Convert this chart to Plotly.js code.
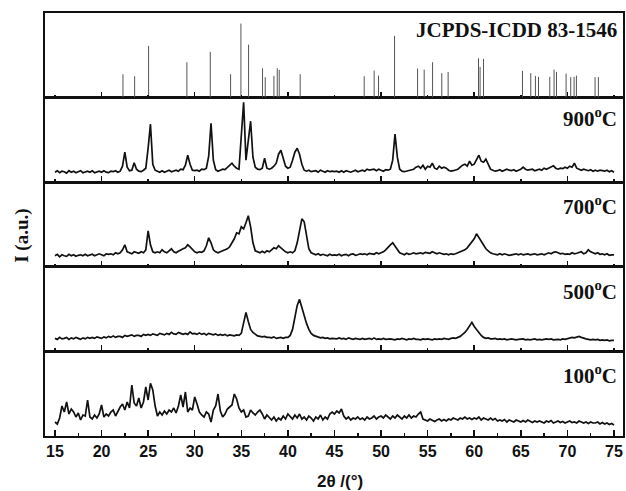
<!DOCTYPE html>
<html>
<head>
<meta charset="utf-8">
<script src="https://cdn.plot.ly/plotly-3.0.1.min.js"></script>
<style>html,body{margin:0;padding:0;background:#fff;}#chart{width:626px;height:491px;}</style>
</head>
<body>
<div id="chart"></div>
<script>
// 2θ grid for the measured patterns: start and step (degrees)
const scanStart = 15;
const scanStep = 0.25;

// JCPDS-ICDD 83-1546 reference lines: positions (2θ) and relative intensities
const jcpdsPos = [22.30, 23.55, 25.05, 29.16, 31.67, 33.85, 34.96, 35.78, 37.28, 37.57, 38.50, 38.86, 39.07, 41.32,
  48.19, 49.26, 49.73, 51.45, 53.92, 54.63, 55.53, 56.52, 57.20, 60.46, 60.63, 61.00, 65.18, 66.07, 66.57, 66.90,
  68.11, 68.57, 68.83, 69.86, 70.36, 70.72, 70.97, 72.97, 73.33];
const jcpdsInt = [31.6, 28.9, 69.9, 47.8, 61.8, 31.6, 100, 71.6, 39.7, 27.6, 29.3, 39.7, 37.4, 31.6,
  28.9, 36.5, 29.7, 83.4, 39.2, 37.8, 47.8, 33.0, 34.7, 53.2, 41.5, 52.3, 36.1, 33.0, 29.3, 28.0,
  28.0, 37.8, 34.7, 32.4, 27.6, 28.0, 29.7, 27.6, 27.6];

// measured intensities (a.u.), one value per 0.25° from 15° to 75°
const i900 = [
  10, 11.5, 9.5, 11,   10.5, 9, 11.5, 10,   11, 9.5, 10.5, 11.5,   9.5, 10, 11, 10,
  11.5, 9.5, 10.5, 11,   10, 11.5, 10, 9.5,   11, 10.5, 11.5, 10,   11, 16, 30, 15,
  11.5, 12, 19.5, 13,   11, 10.5, 12, 14,   34, 58, 18, 12,   11, 10, 11.5, 10,
  11, 12, 10.5, 11,   12, 11, 13, 12.5,   17, 27, 18, 12,   11.5, 12, 11, 13,
  12.5, 14, 26, 59,   22, 12.5, 11, 12,   13, 12.5, 15, 17,   19, 16, 14, 13,
  48, 80, 22, 40,   61, 25, 15, 13,   12.5, 14, 24, 14,   13, 14, 16, 19,
  28, 32, 24, 16,   14, 15, 22, 30,   34, 28, 18, 12,   11, 12, 10.5, 11,
  11.5, 10, 12, 11,   10, 11.5, 10.5, 11,   10.5, 11, 10, 11.5,   10, 11.5, 11, 10,
  11, 12, 10.5, 11.5,   12, 11, 13, 12,   12.5, 13, 11.5, 13,   12, 11, 12.5, 12,
  13, 22, 48, 25,   13, 11, 10.5, 11,   11.5, 12, 13, 15,   16, 14, 17, 13,
  16, 15, 19, 14,   13, 16, 14, 15,   14, 12, 11, 11.5,   12, 13, 15, 17,
  18, 16, 21, 17,   18, 22, 27, 21,   20, 23, 17, 13,   12, 11, 11.5, 12.5,
  11, 12, 13, 12,   11.5, 12.5, 11, 12,   13, 15, 13, 12,   12.5, 13, 11.5, 12,
  13, 12, 14, 13,   14, 15.5, 16.5, 14,   13, 14, 13.5, 15,   14, 16, 15, 19,
  14, 13, 12, 13,   12, 11.5, 12.5, 11,   12, 11, 12, 11.5,   11, 12, 10.5, 11.5,
  10];
const i700 = [
  11, 12.5, 10, 12,   11, 10.5, 12.5, 11,   12, 10.5, 11.5, 12,   11, 12.5, 11, 12,
  12.5, 11, 12, 13,   12, 11, 13, 12.5,   13, 12, 14, 13,   14, 17, 22, 15,
  14, 13, 15, 14,   13.5, 15, 14, 17,   36, 22, 15, 14,   15, 14, 17, 15,
  14, 16, 18, 15,   14, 15.5, 17, 18,   19, 22, 20, 17,   15, 14, 15, 14.5,
  16, 21, 29, 24,   17, 15, 14, 15,   16, 17, 18, 20,   24, 28, 34, 33,
  40, 38, 44, 51,   40, 24, 16, 15,   14, 15.5, 14, 16,   15, 17, 19, 18,
  21, 19, 17, 15,   14, 15, 14, 16,   24, 38, 48, 45,   32, 18, 14, 13,
  12, 13, 11.5, 12.5,   12, 11, 12.5, 11.5,   12, 11.5, 12.5, 11,   12, 12.5, 11, 12.5,
  13, 11.5, 12, 13,   12.5, 13, 12, 13.5,   13, 12.5, 14, 13,   14, 15, 17, 20,
  22, 24, 21, 17,   14, 13, 12, 13.5,   12.5, 13, 14, 13,   13.5, 14, 13, 14.5,
  14, 13.5, 15, 14,   13, 14, 13.5, 12.5,   13, 12, 13, 12.5,   13, 14, 14.5, 16,
  17, 19, 22, 25,   28, 33, 29, 25,   21, 18, 16, 14,   13, 12.5, 12, 13,
  12, 13, 12.5, 11.5,   12, 12.5, 13, 12,   13, 12, 12.5, 13,   12, 12.5, 13, 12,
  12.5, 13, 12, 13,   14, 13, 14.5, 15,   14, 13, 13.5, 12.5,   13, 12.5, 14, 13,
  13.5, 14, 15, 13,   14, 17, 15, 14,   13, 14, 12.5, 13,   12, 13, 11.5, 12,
  12];
const i500 = [
  13, 12, 14, 12.5,   13, 14, 12, 13.5,   12.5, 14, 13, 12,   13.5, 12.5, 14, 13,
  14, 13, 14.5, 13.5,   13, 14.5, 13.5, 15,   14, 15.5, 14, 15,   15, 14, 16, 15,
  15.5, 16.5, 15, 16,   16, 15, 17, 16,   17, 16, 17.5, 16.5,   16, 18, 17, 16.5,
  18, 17, 19, 17.5,   17, 19, 18, 17,   18, 17, 19.5, 17.5,   18, 17, 18.5, 17,
  18, 16.5, 18, 17,   16.5, 17.5, 16, 17,   16, 17, 15.5, 16.5,   16, 15.5, 16.5, 16,
  18, 28, 39, 30,   22, 19, 17, 15.5,   15, 14.5, 15, 14,   14, 13.5, 14.5, 13,
  13.5, 14, 13, 14,   14, 16, 22, 36,   46, 52, 44, 34,   28, 22, 18, 16,
  15, 14, 13.5, 14,   13, 13.5, 12.5, 13,   13, 12.5, 13.5, 12.5,   13, 12, 13.5, 12.5,
  12, 13, 12.5, 12,   13, 12, 12.5, 13,   12, 13.5, 12, 12.5,   12, 13, 12, 12.5,
  12.5, 12, 11.5, 12.5,   12, 13, 12, 11.5,   12.5, 12, 13, 12,   12, 11.5, 12.5, 12,
  12.5, 12, 11.5, 12.5,   12, 12.5, 12, 13,   12.5, 12, 13, 13.5,   13, 14, 15, 17,
  19, 22, 26, 29,   25, 22, 18, 16,   14, 13, 13.5, 12.5,   12.5, 13, 12, 12.5,
  12, 12.5, 11.5, 12,   12.5, 12, 11.5, 12,   12, 12.5, 11.5, 12,   11.5, 12, 12.5, 11.5,
  12, 11.5, 12, 12.5,   12, 12.5, 11.5, 12,   12, 11.5, 12.5, 12,   12.5, 13, 14, 13.5,
  14, 15, 14, 13,   12.5, 12, 11.5, 12,   11.5, 12, 11, 11.5,   11, 11.5, 10.5, 11,
  11];
const i100 = [
  14, 12, 18, 30,   24, 34, 22, 27,   24, 19, 23, 16,   21, 20, 36, 19,
  17, 21, 18, 22,   31, 19, 22, 20,   24, 26, 20, 25,   29, 32, 26, 34,
  28, 51, 33, 30,   38, 28, 34, 49,   36, 52.7, 46, 30,   20, 24, 21, 25,
  22, 26, 24, 28,   23, 30, 41, 29,   44, 24, 28, 26,   39, 32, 24, 21,
  19, 24, 22, 14,   26, 30, 42, 25,   19, 22, 27, 29,   31, 42, 37, 28,
  24, 26, 19, 20,   26, 23, 21, 24,   26, 22, 17, 21,   18, 16, 19, 15,
  18, 16, 20, 17,   22, 19, 17, 21,   18, 22, 17, 19,   16, 20, 18, 15,
  19, 17, 21, 16,   19, 17, 22, 24,   22, 25, 23, 27,   20, 17, 19, 16,
  18, 17, 19, 16.5,   18, 16, 19, 17,   18, 20, 17, 19,   20, 18, 21, 19,
  17, 20, 18, 21,   19, 17, 20, 18,   21, 18, 20, 19,   22, 24, 17, 16,
  15, 17, 16, 14.5,   16, 17, 15, 16.5,   15, 17, 16, 18,   17, 16, 18, 17,
  19, 17, 18, 16.5,   18, 17, 19, 16,   18, 17, 16, 18,   16, 17.5, 15, 16,
  15, 16.5, 14, 16,   15, 14, 16, 15,   14, 15.5, 14, 16,   15, 13.5, 15, 14,
  15, 14, 13, 15,   14, 15.5, 13, 14,   15, 13.5, 14.5, 13,   14, 15, 13.5, 14,
  13, 15, 14, 13,   14, 12.5, 14, 13,   13, 14, 12, 13.5,   12, 13, 11.5, 12.5,
  11];

const panelLabels = ['JCPDS-ICDD 83-1546', '900<sup>o</sup>C', '700<sup>o</sup>C', '500<sup>o</sup>C', '100<sup>o</sup>C'];
const xTickLabels = ['15', '20', '25', '30', '35', '40', '45', '50', '55', '60', '65', '70', '75'];

// stick pattern built from the reference arrays
const stickX = [], stickY = [];
jcpdsPos.forEach((p, k) => { stickX.push(p, p, null); stickY.push(0, jcpdsInt[k], null); });

const lineStyle = {color: '#111', width: 1.7};
const traces = [
  {type: 'scatter', mode: 'lines', x: stickX, y: stickY, xaxis: 'x5', yaxis: 'y5',
   line: {color: '#555', width: 1}, hoverinfo: 'skip'},
  {type: 'scatter', mode: 'lines', x0: scanStart, dx: scanStep, y: i900, xaxis: 'x4', yaxis: 'y4', line: lineStyle},
  {type: 'scatter', mode: 'lines', x0: scanStart, dx: scanStep, y: i700, xaxis: 'x3', yaxis: 'y3', line: lineStyle},
  {type: 'scatter', mode: 'lines', x0: scanStart, dx: scanStep, y: i500, xaxis: 'x2', yaxis: 'y2', line: lineStyle},
  {type: 'scatter', mode: 'lines', x0: scanStart, dx: scanStep, y: i100, xaxis: 'x', yaxis: 'y', line: lineStyle}
];

const axLine = {showline: true, linecolor: '#111', linewidth: 1.6, mirror: true, showgrid: false, zeroline: false};
const xRange = [13.93, 75.97];
function upperX(anchor) {
  return Object.assign({}, axLine, {
    anchor: anchor, matches: 'x', range: xRange, showticklabels: false,
    ticks: 'inside', tickmode: 'linear', tick0: 0, dtick: 10, ticklen: 6, tickwidth: 1.5, tickcolor: '#111',
    minor: {ticks: 'inside', tickmode: 'linear', tick0: 0, dtick: 5, ticklen: 3, tickwidth: 1.5, tickcolor: '#111'}
  });
}
function yAx(domain, range) {
  return Object.assign({}, axLine, {domain: domain, range: range, showticklabels: false, ticks: ''});
}

const serifFont = 'Liberation Serif, Times New Roman, serif';
function panelLabel(text, y) {
  return {text: text, xref: 'paper', yref: 'paper', x: 0.993, y: y, xanchor: 'right', yanchor: 'middle', showarrow: false,
          font: {family: serifFont, size: 21, color: '#111', weight: 'bold'}};
}

const layout = {
  width: 626, height: 491,
  margin: {l: 45, r: 3, t: 13, b: 55},
  paper_bgcolor: '#fff', plot_bgcolor: '#fff',
  showlegend: false,
  xaxis: Object.assign({}, axLine, {
    anchor: 'y', range: xRange,
    ticks: 'inside', tickmode: 'array', tickvals: xTickLabels.map(Number), ticktext: xTickLabels,
    ticklen: 6, tickwidth: 1.5, tickcolor: '#111',
    tickfont: {family: 'Liberation Sans, Arial, sans-serif', size: 16, color: '#111', weight: 'bold'},
    minor: {ticks: 'inside', tickmode: 'linear', tick0: 0, dtick: 2.5, ticklen: 3, tickwidth: 1.5, tickcolor: '#111'}
  }),
  xaxis2: upperX('y2'),
  xaxis3: upperX('y3'),
  xaxis4: upperX('y4'),
  xaxis5: upperX('y5'),
  yaxis: yAx([0, 0.2], [0, 84.6]),
  yaxis2: yAx([0.2, 0.4], [0, 84.6]),
  yaxis3: yAx([0.4, 0.6], [0, 84.6]),
  yaxis4: yAx([0.6, 0.8], [0, 84.6]),
  yaxis5: yAx([0.8, 1], [0, 114.3]),
  annotations: [
    panelLabel(panelLabels[0], 0.96),
    panelLabel(panelLabels[1], 0.754),
    panelLabel(panelLabels[2], 0.546),
    panelLabel(panelLabels[3], 0.345),
    panelLabel(panelLabels[4], 0.146),
    {text: 'I (a.u.)', xref: 'paper', yref: 'paper', x: -0.04, y: 0.473, xanchor: 'center', yanchor: 'middle', textangle: -90, showarrow: false,
     font: {family: serifFont, size: 19, color: '#111', weight: 'bold'}},
    {text: '2θ /(°)', xref: 'paper', yref: 'paper', x: 0.51, y: -0.107, xanchor: 'center', yanchor: 'middle', showarrow: false,
     font: {family: 'Liberation Sans, Arial, sans-serif', size: 17, color: '#111', weight: 'bold'}}
  ]
};

Plotly.newPlot('chart', traces, layout, {displayModeBar: false, staticPlot: true});
</script>
</body>
</html>
